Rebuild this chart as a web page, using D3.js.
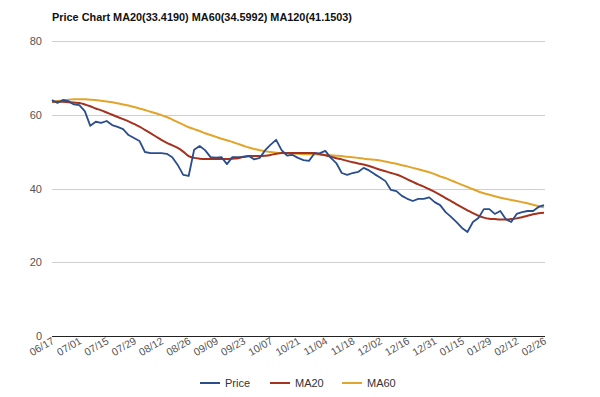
<!DOCTYPE html>
<html><head><meta charset="utf-8">
<script src="https://cdn.jsdelivr.net/npm/d3@7/dist/d3.min.js"></script>
<style>body{margin:0;background:#fff}svg{display:block}</style>
</head><body>
<svg id="c" width="600" height="397"></svg>
<script>
const titleText = "Price Chart MA20(33.4190) MA60(34.5992) MA120(41.1503)";
const dateLabels = ["06/17","07/01","07/15","07/29","08/12","08/26","09/09","09/23","10/07","10/21","11/04","11/18","12/02","12/16","12/31","01/15","01/29","02/12","02/26"];
const labelEvery = 5;
const yTicks = [0,20,40,60,80];
const price = [64.0,63.2,64.0,63.7,62.8,62.6,61.0,57.0,58.1,57.8,58.3,57.2,56.7,56.1,54.5,53.7,52.9,49.9,49.6,49.6,
  49.6,49.4,48.5,46.4,43.7,43.4,50.5,51.5,50.4,48.5,48.4,48.5,46.6,48.5,48.5,48.5,48.8,47.9,48.3,50.4,
  51.9,53.2,50.4,48.9,49.1,48.3,47.7,47.5,49.5,49.6,50.2,48.3,46.9,44.2,43.7,44.2,44.5,45.6,44.9,43.9,
  43.0,42.0,39.6,39.3,38.0,37.2,36.6,37.2,37.2,37.6,36.3,35.5,33.6,32.3,30.9,29.3,28.2,30.9,32.0,34.4,
  34.4,33.1,33.9,31.7,30.9,33.1,33.6,33.9,33.9,35.0,35.5];
const ma20 = [63.5,63.5,63.5,63.4,63.3,63.2,62.8,62.3,61.7,61.2,60.6,60.0,59.4,58.8,58.2,57.5,56.8,55.9,55.0,54.1,
  53.2,52.4,51.7,51.0,50.0,48.8,48.3,48.1,48.0,48.0,48.0,48.0,48.0,48.1,48.2,48.6,48.8,48.8,48.8,48.9,
  49.1,49.4,49.6,49.6,49.6,49.6,49.6,49.6,49.6,49.3,49.0,48.6,48.2,47.9,47.5,47.1,46.8,46.5,46.1,45.6,
  45.1,44.7,44.2,43.8,43.2,42.5,41.8,41.1,40.5,39.8,39.1,38.3,37.4,36.6,35.7,34.9,34.1,33.3,32.6,32.1,
  31.8,31.7,31.6,31.6,31.7,31.9,32.2,32.6,33.0,33.3,33.4];
const ma60 = [63.5,63.7,63.9,64.1,64.2,64.2,64.2,64.1,64.0,63.8,63.6,63.4,63.1,62.8,62.5,62.1,61.7,61.3,60.8,60.4,
  59.9,59.4,58.7,58.0,57.3,56.6,56.1,55.6,55.0,54.5,54.0,53.5,53.1,52.6,52.1,51.6,51.1,50.7,50.4,50.1,
  49.9,49.7,49.6,49.5,49.4,49.4,49.3,49.3,49.3,49.2,49.1,49.0,48.9,48.8,48.6,48.5,48.3,48.1,47.9,47.8,
  47.6,47.3,47.0,46.7,46.3,46.0,45.6,45.2,44.8,44.4,43.9,43.3,42.8,42.2,41.6,41.0,40.4,39.8,39.2,38.7,
  38.3,37.9,37.5,37.2,36.9,36.6,36.3,36.0,35.6,35.2,34.9];
const seriesNames = ["Price","MA20","MA60"];
const seriesColors = ["#2a4d8c","#a5321e","#e2a42a"];

const svg = d3.select("#c");
const font = "Arial, 'Liberation Sans', sans-serif";
const x = d3.scaleLinear().domain([0, price.length-1]).range([52, 544]);
const y = d3.scaleLinear().domain([0, 80]).range([336, 41]);

svg.append("text").attr("x", 52).attr("y", 21).attr("font-family", font)
  .attr("font-weight", "bold").attr("font-size", 11).attr("fill", "#111")
  .attr("textLength", 300).attr("lengthAdjust", "spacingAndGlyphs").text(titleText);

svg.append("g").selectAll("line").data(yTicks).join("line")
  .attr("x1", 52).attr("x2", 545).attr("y1", d=>Math.round(y(d))+0.5).attr("y2", d=>Math.round(y(d))+0.5)
  .attr("stroke", d=> d===0 ? "#222" : "#cfcfcf").attr("stroke-width", 1);

const yAxis = d3.axisLeft(y).tickValues(yTicks).tickSize(0).tickPadding(0);
const gy = svg.append("g").attr("transform", "translate(42,0)").call(yAxis);
gy.select(".domain").remove();
gy.selectAll("text").attr("font-family", font).attr("font-size", 11).attr("fill", "#555");

const xs = dateLabels.map((d,i)=>({d, i: i*labelEvery}));
svg.append("g").selectAll("text").data(xs).join("text")
  .attr("transform", d=>`translate(${x(d.i)+3},${343}) rotate(-30)`)
  .attr("text-anchor", "end").attr("font-family", font).attr("font-size", 10.5).attr("fill", "#555")
  .text(d=>d.d);

const smooth = d3.line().x((d,i)=>x(i)).y(d=>y(d)).curve(d3.curveMonotoneX);
const sharp = d3.line().x((d,i)=>x(i)).y(d=>y(d)).curve(d3.curveLinear);
const series = [price, ma20, ma60];
[2,1,0].forEach(idx => {
  svg.append("path").datum(series[idx]).attr("d", idx===0 ? sharp : smooth).attr("fill", "none")
    .attr("stroke", seriesColors[idx]).attr("stroke-width", idx===0 ? 1.8 : 2).attr("stroke-linejoin", "round");
});

const legX = [200, 270, 342];
const lg = svg.append("g");
seriesNames.forEach((n, i) => {
  lg.append("line").attr("x1", legX[i]).attr("x2", legX[i]+20).attr("y1", 383).attr("y2", 383)
    .attr("stroke", seriesColors[i]).attr("stroke-width", 2);
  lg.append("text").attr("x", legX[i]+25).attr("y", 387).attr("font-family", font)
    .attr("font-size", 11).attr("fill", "#333").text(n);
});
</script>
</body></html>
